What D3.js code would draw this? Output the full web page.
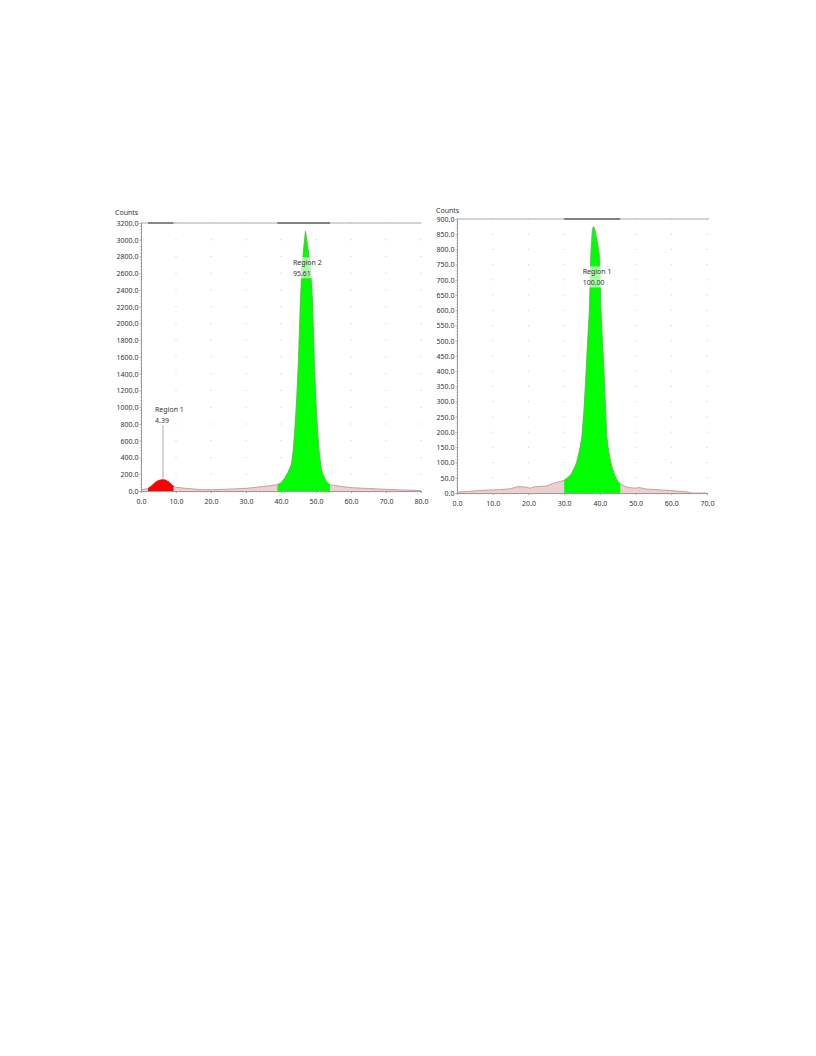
<!DOCTYPE html>
<html>
<head>
<meta charset="utf-8">
<script src="https://cdn.jsdelivr.net/npm/d3@7/dist/d3.min.js"></script>
<style>
  html, body { margin: 0; padding: 0; background: #fff; }
  svg { display: block; }
  text { font-family: "Noto Sans", "Open Sans", sans-serif; fill: #333; }
</style>
</head>
<body>
<svg id="c" width="816" height="1056"></svg>
<script>
// ---------- Left histogram data ----------
const leftX = [0,1,2,3,4,5,6,7,8,9,10,12,14,16,18,20,22,25,28,30,33,35,37,38,39,40,41,42,43,43.5,44,44.5,45,45.5,46,46.5,47,47.5,48,48.5,49,49.5,50,50.5,51,51.5,52,53,54,55,58,60,65,70,75,80];
const leftCounts = [15,22,30,60,100,125,135,130,105,65,45,35,28,20,15,15,18,22,28,32,45,55,65,70,75,95,150,220,320,480,750,1100,1550,2200,2650,2900,3100,2950,2800,2600,2250,1550,1050,680,420,270,190,110,75,68,50,40,30,20,12,5];
const leftYTicks = [0,200,400,600,800,1000,1200,1400,1600,1800,2000,2200,2400,2600,2800,3000,3200];
const leftXTicks = [0,10,20,30,40,50,60,70,80];
const leftRegionNames = ["Region 1", "Region 2"];
const leftRegionStart = [2, 39];
const leftRegionEnd = [9.3, 54];
const leftRegionPct = ["4.39", "95.61"];

// ---------- Right histogram data ----------
const rightX = [0,3,6,9,12,15,17,19,20.5,22,25,27,29,30,31,32,33,33.5,34,34.5,35,35.5,36,36.3,36.7,37.1,37.5,37.9,38.2,38.6,39,39.4,39.8,40.3,40.6,41,41.4,41.9,42.4,42.9,43.5,44.3,45,45.7,47,48,50,51,53,57,60,64,65,66,70];
const rightCounts = [3,5,8,10,11,14,21,20,16,21,23,32,38,42,50,62,85,100,125,150,185,260,360,430,520,601,787,860,875,865,840,815,787,601,520,437,330,188,140,108,80,54,38,30,22,18,16,18,13,10,8,4,2,0,0];
const rightYTicks = [0,50,100,150,200,250,300,350,400,450,500,550,600,650,700,750,800,850,900];
const rightXTicks = [0,10,20,30,40,50,60,70];
const rightRegionNames = ["Region 1"];
const rightRegionStart = [30];
const rightRegionEnd = [45.7];
const rightRegionPct = ["100.00"];

const svg = d3.select("#c");

function drawChart(cfg) {
  const g = svg.append("g");
  const x = d3.scaleLinear().domain(cfg.xDomain).range([cfg.left, cfg.right]);
  const y = d3.scaleLinear().domain(cfg.yDomain).range([cfg.bottom, cfg.top]);
  const pts = cfg.xs.map((v, i) => [v, cfg.ys[i]]);

  // grid dots
  const gx = cfg.xTicks.filter(d => d > cfg.xDomain[0]);
  const gy = cfg.yTicks.filter(d => d > cfg.yDomain[0]);
  gx.forEach(tx => gy.forEach(ty => {
    g.append("rect").attr("x", x(tx) - 0.5).attr("y", y(ty) - 0.5)
      .attr("width", 1).attr("height", 1).attr("fill", "#c8c8c8");
  }));

  // full histogram area
  const area = d3.area().x(d => x(d[0])).y0(y(0)).y1(d => y(d[1]));
  const line = d3.line().x(d => x(d[0])).y(d => y(d[1]));
  g.append("path").datum(pts).attr("d", area).attr("fill", "#ecd0d0");
  g.append("path").datum(pts).attr("d", line).attr("fill", "none")
    .attr("stroke", "#c48a8a").attr("stroke-width", 0.8);

  // region fills
  cfg.regionStart.forEach((s, i) => {
    const id = cfg.id + "clip" + i;
    svg.append("clipPath").attr("id", id).append("rect")
      .attr("x", x(s)).attr("y", cfg.top - 5)
      .attr("width", x(cfg.regionEnd[i]) - x(s)).attr("height", cfg.bottom - cfg.top + 5);
    g.append("path").datum(pts).attr("d", area).attr("fill", cfg.regionColors[i])
      .attr("clip-path", `url(#${id})`);
    g.append("path").datum(pts).attr("d", line).attr("fill", "none")
      .attr("stroke", cfg.regionStroke[i]).attr("stroke-width", 0.6)
      .attr("clip-path", `url(#${id})`);
  });

  // top border line with region markers
  g.append("line").attr("x1", cfg.left).attr("x2", cfg.topRight)
    .attr("y1", cfg.top).attr("y2", cfg.top).attr("stroke", "#a8a8a8").attr("stroke-width", 1);
  cfg.regionStart.forEach((s, i) => {
    g.append("line").attr("x1", x(s)).attr("x2", x(cfg.regionEnd[i]))
      .attr("y1", cfg.top).attr("y2", cfg.top).attr("stroke", "#666").attr("stroke-width", 1.4);
  });

  // y axis
  const yAxis = d3.axisLeft(y).tickValues(cfg.yTicks).tickSize(1.5)
    .tickFormat(d => d3.format(".1f")(d));
  const ya = g.append("g").attr("transform", `translate(${cfg.left},0)`).call(yAxis);
  ya.select(".domain").attr("stroke", "#999");
  ya.selectAll(".tick line").attr("stroke", "#bbb");
  ya.selectAll("text").attr("font-size", 7).attr("fill", "#333").attr("x", -2.5)
    .style("font-family", '"Noto Sans", sans-serif');
  // minor y ticks
  const minorY = d3.range(cfg.yDomain[0], cfg.yDomain[1] + 0.001, cfg.yMinor);
  g.selectAll(null).data(minorY).enter().append("line")
    .attr("x1", cfg.left - 1.2).attr("x2", cfg.left)
    .attr("y1", d => y(d)).attr("y2", d => y(d)).attr("stroke", "#bbb").attr("stroke-width", 0.6);

  // x axis
  const xAxis = d3.axisBottom(x).tickValues(cfg.xTicks).tickSize(2)
    .tickFormat(d => d3.format(".1f")(d));
  const xa = g.append("g").attr("transform", `translate(0,${cfg.bottom})`).call(xAxis);
  xa.select(".domain").attr("stroke", "#999").attr("stroke-width", 1);
  xa.selectAll(".tick line").attr("stroke", "#999");
  xa.selectAll("text").attr("font-size", 7).attr("fill", "#333").attr("y", 8)
    .style("font-family", '"Noto Sans", sans-serif');
  const minorX = d3.range(cfg.xDomain[0], cfg.xDomain[1] + 0.001, 1);
  g.selectAll(null).data(minorX).enter().append("line")
    .attr("x1", d => x(d)).attr("x2", d => x(d))
    .attr("y1", cfg.bottom).attr("y2", cfg.bottom + 1.6).attr("stroke", "#aaa").attr("stroke-width", 0.7);

  // Counts label
  g.append("text").attr("x", cfg.left - cfg.countsDx).attr("y", cfg.top - cfg.countsDy)
    .attr("font-size", 7).text("Counts");

  // region labels
  cfg.regionNames.forEach((name, i) => {
    const lx = x(cfg.labelX[i]), ly = y(cfg.labelY[i]);
    const lg = g.append("g");
    lg.append("rect").attr("x", lx - 1.5).attr("y", ly - 8).attr("width", 31).attr("height", 21)
      .attr("fill", "#fff").attr("opacity", cfg.labelBg[i]);
    lg.append("text").attr("x", lx).attr("y", ly).attr("font-size", 7).text(name);
    lg.append("text").attr("x", lx).attr("y", ly + 10.5).attr("font-size", 7).text(cfg.regionPct[i]);
    if (cfg.leader[i] !== null) {
      const lxData = cfg.leader[i];
      const peak = d3.max(pts.filter(p => p[0] >= cfg.regionStart[i] && p[0] <= cfg.regionEnd[i]), p => p[1]);
      g.append("line").attr("x1", x(lxData)).attr("x2", x(lxData))
        .attr("y1", ly + 13).attr("y2", y(peak)).attr("stroke", "#999").attr("stroke-width", 0.8);
    }
  });
}

drawChart({
  id: "L", xs: leftX, ys: leftCounts,
  xDomain: [0, 80], yDomain: [0, 3200],
  left: 141, right: 421, top: 223, bottom: 491, topRight: 421,
  countsDx: 26, countsDy: 8,
  xTicks: leftXTicks, yTicks: leftYTicks, yMinor: 40,
  regionNames: leftRegionNames, regionStart: leftRegionStart, regionEnd: leftRegionEnd,
  regionPct: leftRegionPct,
  regionColors: ["#ff0000", "#00ff00"], regionStroke: ["#d00000", "#4fbf4f"],
  labelX: [4.0, 43.4], labelY: [940, 2695], labelBg: [0, 0.65], leader: [6.3, null]
});

drawChart({
  id: "R", xs: rightX, ys: rightCounts,
  xDomain: [0, 70], yDomain: [0, 900],
  left: 457, right: 707, top: 219, bottom: 493, topRight: 709,
  countsDx: 21, countsDy: 6,
  xTicks: rightXTicks, yTicks: rightYTicks, yMinor: 10,
  regionNames: rightRegionNames, regionStart: rightRegionStart, regionEnd: rightRegionEnd,
  regionPct: rightRegionPct,
  regionColors: ["#00ff00"], regionStroke: ["#4fbf4f"],
  labelX: [35.2], labelY: [718], labelBg: [0.65], leader: [null]
});
</script>
</body>
</html>
